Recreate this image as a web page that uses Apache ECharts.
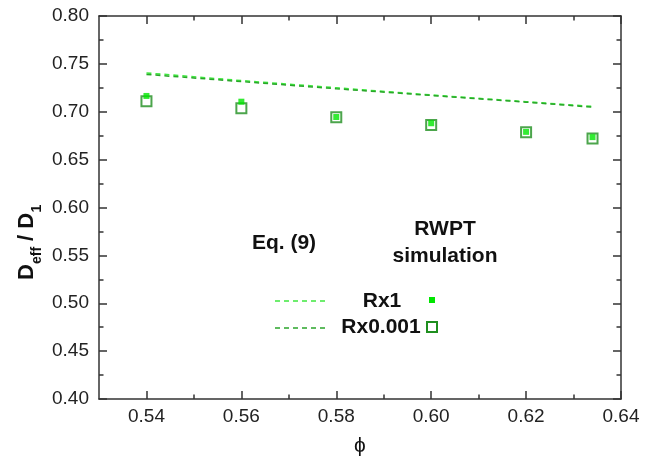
<!DOCTYPE html>
<html>
<head>
<meta charset="utf-8">
<script src="https://cdn.jsdelivr.net/npm/echarts@6/dist/echarts.min.js"></script>
<style>html,body{margin:0;padding:0;background:#fff;}#c{width:653px;height:468px;}</style>
</head>
<body>
<div id="c"></div>
<script>
var phi = [0.54, 0.56, 0.58, 0.60, 0.62, 0.634];
var eqRx1 = [0.7405, 0.7325, 0.7250, 0.7175, 0.7105, 0.7055];
var eqRx0001 = [0.7390, 0.7315, 0.7240, 0.7170, 0.7100, 0.7048];
var simRx1 = [0.7165, 0.7105, 0.6945, 0.6880, 0.6790, 0.6735];
var simRx0001 = [0.7110, 0.7037, 0.6942, 0.6862, 0.6786, 0.6720];
var xMajorTicks = [0.54, 0.56, 0.58, 0.60, 0.62, 0.64];
var xMinorTicks = [0.55, 0.57, 0.59, 0.61, 0.63];
var yTicks = [0.40, 0.45, 0.50, 0.55, 0.60, 0.65, 0.70, 0.75, 0.80];

function pairs(xs, ys){ return xs.map(function(x,i){ return [x, ys[i]]; }); }

var FONT = 'Arial, "Liberation Sans", sans-serif';
var axisColor = '#333';
var light = '#3fe83f';
var dark = '#1f8f1f';
var lime = '#00e600';

function xMajor(pos, show){
  return {
    type:'value', position:pos, min:0.53, max:0.64, interval:0.01,
    axisLine:{show:true, onZero:false, lineStyle:{color:axisColor, width:1.5}},
    axisTick:{show:true, inside:true, length:8, customValues:xMajorTicks, lineStyle:{color:axisColor, width:1.5}},
    axisLabel:{show:show, fontFamily:FONT, fontSize:19, color:'#222', margin:8, customValues:xMajorTicks,
      formatter:function(v){ return v.toFixed(2); }},
    splitLine:{show:false}
  };
}
function xMinor(pos){
  return {
    type:'value', position:pos, min:0.53, max:0.64, interval:0.01,
    axisLine:{show:false, onZero:false},
    axisTick:{show:true, inside:true, length:4.5, customValues:xMinorTicks, lineStyle:{color:axisColor, width:1.5}},
    axisLabel:{show:false},
    splitLine:{show:false}
  };
}
function yAx(pos, show){
  return {
    type:'value', position:pos, min:0.40, max:0.80, interval:0.05,
    axisLine:{show:true, onZero:false, lineStyle:{color:axisColor, width:1.5}},
    axisTick:{show:true, inside:true, length:8, lineStyle:{color:axisColor, width:1.5}},
    minorTick:{show:true, splitNumber:2, length:4.5, lineStyle:{color:axisColor, width:1.5}},
    axisLabel:{show:show, fontFamily:FONT, fontSize:19, color:'#222', margin:10,
      formatter:function(v){ return v.toFixed(2); }},
    splitLine:{show:false}
  };
}

var chart = echarts.init(document.getElementById('c'), null, {renderer:'canvas'});

var option = {
  backgroundColor:'#fff',
  animation:false,
  grid:{left:99, right:32, top:16, bottom:69, containLabel:false},
  xAxis: [xMajor('bottom', true), xMajor('top', false), xMinor('bottom'), xMinor('top')],
  yAxis: [yAx('left', true), yAx('right', false)],
  series:[
    {type:'line', name:'Eq Rx1', data:pairs(phi, eqRx1), showSymbol:false, symbol:'none',
      lineStyle:{color:light, width:1.6, type:[5,4]}, z:2},
    {type:'line', name:'Eq Rx0.001', data:pairs(phi, eqRx0001), showSymbol:false, symbol:'none',
      lineStyle:{color:'#2aa52a', width:1.5, type:[5,4]}, z:2},
    {type:'scatter', name:'Sim Rx0.001', data:pairs(phi, simRx0001), symbol:'rect', symbolSize:10,
      itemStyle:{color:'rgba(255,255,255,0)', borderColor:dark, borderWidth:2}, z:3},
    {type:'scatter', name:'Sim Rx1', data:pairs(phi, simRx1), symbol:'rect', symbolSize:6,
      itemStyle:{color:lime}, z:4}
  ],
  graphic:[
    {type:'text', style:{text:'ϕ', font:'21px ' + FONT, fill:'#111', x:360, y:446, align:'center', verticalAlign:'middle'}},
    {type:'group', x:38, y:280, rotation:Math.PI/2, children:[
      {type:'text', x:0, y:0, style:{text:'D', font:'bold 22px ' + FONT, fill:'#111', align:'left', verticalAlign:'bottom'}},
      {type:'text', x:16, y:6, style:{text:'eff', font:'bold 14px ' + FONT, fill:'#111', align:'left', verticalAlign:'bottom'}},
      {type:'text', x:33, y:0, style:{text:' / D', font:'bold 22px ' + FONT, fill:'#111', align:'left', verticalAlign:'bottom'}},
      {type:'text', x:67.5, y:6, style:{text:'1', font:'bold 14px ' + FONT, fill:'#111', align:'left', verticalAlign:'bottom'}}
    ]},
    {type:'text', style:{text:'Eq. (9)', font:'bold 21px ' + FONT, fill:'#111', x:284, y:243, align:'center', verticalAlign:'middle'}},
    {type:'text', style:{text:'RWPT', font:'bold 21px ' + FONT, fill:'#111', x:445, y:229, align:'center', verticalAlign:'middle'}},
    {type:'text', style:{text:'simulation', font:'bold 21px ' + FONT, fill:'#111', x:445, y:256, align:'center', verticalAlign:'middle'}},
    {type:'line', shape:{x1:275, y1:301, x2:327, y2:301}, style:{stroke:light, lineWidth:1.5, lineDash:[5,4]}},
    {type:'line', shape:{x1:275, y1:328, x2:327, y2:328}, style:{stroke:'#2aa52a', lineWidth:1.5, lineDash:[5,4]}},
    {type:'text', style:{text:'Rx1', font:'bold 21px ' + FONT, fill:'#111', x:382, y:301, align:'center', verticalAlign:'middle'}},
    {type:'text', style:{text:'Rx0.001', font:'bold 21px ' + FONT, fill:'#111', x:381, y:327, align:'center', verticalAlign:'middle'}},
    {type:'rect', shape:{x:429, y:297, width:6, height:6}, style:{fill:lime}},
    {type:'rect', shape:{x:427, y:322, width:10, height:10}, style:{fill:'none', stroke:dark, lineWidth:2}}
  ]
};
chart.setOption(option);
</script>
</body>
</html>
